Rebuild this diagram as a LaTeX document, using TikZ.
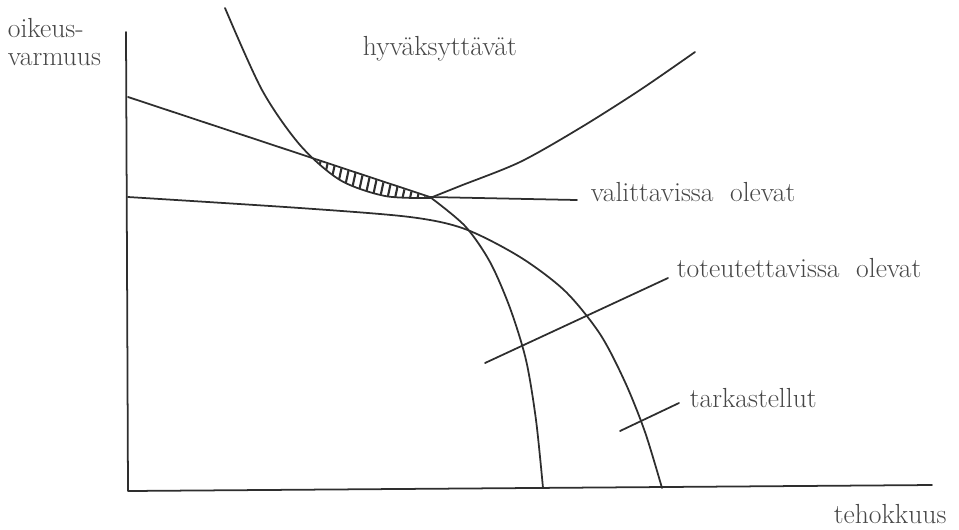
\documentclass[tikz,border=0pt]{standalone}
\usepackage{fontspec}
\begin{document}
\begin{tikzpicture}[x=0.02cm, y=-0.02cm, line width=1pt, line join=round, line cap=round,
  curve/.style={draw=black!82},
  hatch/.style={draw=black!82, line width=1.2pt},
  lbl/.style={font=\fontsize{15.7}{19}\selectfont, text=black!72, inner sep=0pt, anchor=base west}]
  \useasboundingbox (0,0) rectangle (959,529);
  % akselit
  \coordinate (ytop) at (126,32);
  \coordinate (O) at (128,491);
  \coordinate (xend) at (932,485);
  \draw[curve] (ytop) -- (O) -- (xend);
  \node[lbl] (oikeus) at (7,37) {oikeus-};
  \node[lbl] (varmuus) at (7,65) {varmuus};
  \node[lbl] (tehokkuus) at (833,523) {tehokkuus};
  % viivoitettu alue
  \begin{scope}
    \clip (310,0) rectangle (440,260);
    \clip plot[smooth] coordinates {(225,8) (262,90) (300,145) (340,180) (385,196) (430,198)} -- (128,97) -- cycle;
    \foreach \x in {296,303.5,...,440}
      \draw[hatch] (\x,205) -- (\x+12,150);
  \end{scope}
  % valittavissa olevat
  \coordinate (v0) at (128,97);
  \coordinate (vk) at (430,197);
  \coordinate (v1) at (577,200);
  \draw[curve] (v0) -- (vk) -- (v1);
  \node[lbl] (valitt) at (590,201) {valittavissa\ \ olevat};
  % hyväksyttävät
  \draw[curve] plot[smooth] coordinates {(225,8) (262,90) (300,145) (340,180) (385,196) (430,198)};
  \draw[curve] plot[smooth] coordinates {(430,198) (460,186) (520,162) (580,128) (640,90) (695,52)};
  \node[lbl] (hyvaks) at (362,55) {hyväksyttävät};
  % rajakäyrät
  \draw[curve] plot[smooth] coordinates {(430,197) (465,226) (490,262) (510,308) (526,360) (536,420) (543,488)};
  \draw[curve] plot[smooth] coordinates {(128,197) (300,208) (410,217) (465,229) (520,257) (565,291) (600,334) (625,382) (645,432) (662,488)};
  % osoitinviivat
  \coordinate (tot0) at (485,363);
  \coordinate (tot1) at (668,278);
  \draw[curve] (tot0) -- (tot1);
  \node[lbl] (toteut) at (676,277) {toteutettavissa\ \ olevat};
  \coordinate (tar0) at (620,431);
  \coordinate (tar1) at (679,403);
  \draw[curve] (tar0) -- (tar1);
  \node[lbl] (tarkast) at (689,407) {tarkastellut};
\end{tikzpicture}
\end{document}
